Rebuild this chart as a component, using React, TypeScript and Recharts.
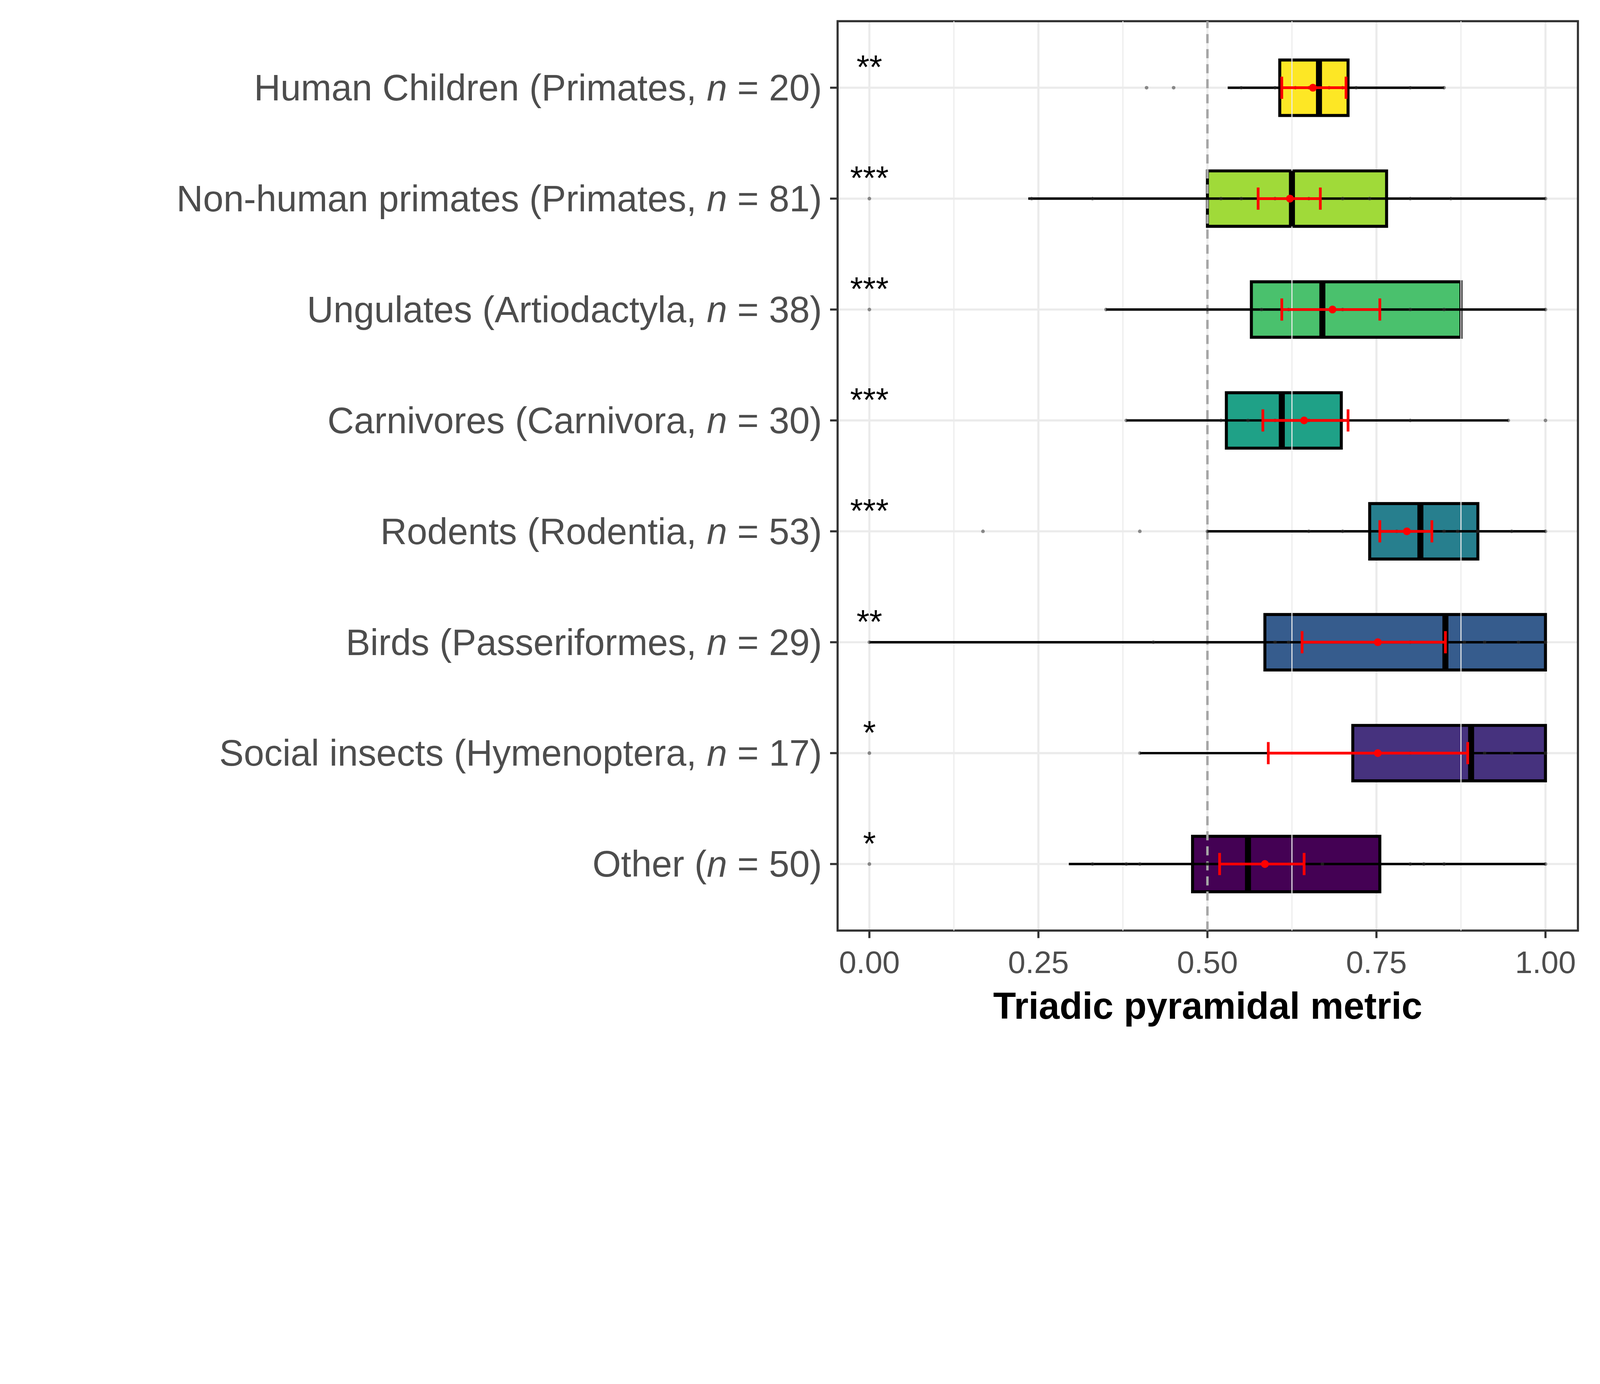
import React from 'react';
import {
  ScatterChart,
  Scatter,
  XAxis,
  YAxis,
  CartesianGrid,
  ReferenceLine,
  ReferenceArea,
} from 'recharts';

const names = ['Human Children', 'Non-human primates', 'Ungulates', 'Carnivores', 'Rodents', 'Birds', 'Social insects', 'Other'];
const orders = ['Primates', 'Primates', 'Artiodactyla', 'Carnivora', 'Rodentia', 'Passeriformes', 'Hymenoptera', ''];
const counts = [20, 81, 38, 30, 53, 29, 17, 50];
const colors = ['#FDE725', '#A0DA39', '#4AC16D', '#1FA187', '#277F8E', '#365C8D', '#46327E', '#440154'];
const q1 = [0.607, 0.5, 0.565, 0.528, 0.74, 0.585, 0.715, 0.478];
const medians = [0.665, 0.625, 0.67, 0.61, 0.815, 0.852, 0.89, 0.56];
const q3 = [0.708, 0.765, 0.875, 0.698, 0.9, 1.0, 1.0, 0.755];
const whiskLo = [0.53, 0.235, 0.35, 0.38, 0.5, 0.0, 0.4, 0.295];
const whiskHi = [0.85, 1.0, 1.0, 0.945, 1.0, 1.0, 1.0, 1.0];
const means = [0.656, 0.622, 0.685, 0.643, 0.795, 0.752, 0.752, 0.585];
const ciLo = [0.61, 0.575, 0.61, 0.582, 0.755, 0.64, 0.59, 0.518];
const ciHi = [0.705, 0.667, 0.755, 0.708, 0.832, 0.852, 0.885, 0.643];
const stars = ['**', '***', '***', '***', '***', '**', '*', '*'];
const points = [
  [0.41, 0.45, 0.55, 0.6, 0.63, 0.65, 0.68, 0.7, 0.72, 0.8, 0.85],
  [0.0, 0.24, 0.33, 0.52, 0.55, 0.6, 0.65, 0.7, 0.74, 0.8, 0.86, 1.0],
  [0.0, 0.35, 0.5, 0.58, 0.62, 0.7, 0.8, 0.85, 1.0],
  [0.38, 0.52, 0.56, 0.6, 0.65, 0.7, 0.8, 0.945, 1.0],
  [0.168, 0.4, 0.5, 0.65, 0.7, 0.78, 0.82, 0.85, 0.87, 0.9, 0.95, 1.0],
  [0.0, 0.42, 0.6, 0.62, 0.8, 0.88, 0.91, 0.96, 1.0],
  [0.0, 0.4, 0.8, 0.91, 0.95, 1.0],
  [0.0, 0.33, 0.38, 0.4, 0.5, 0.55, 0.62, 0.67, 0.8, 0.82, 0.85, 1.0],
];
const xTicks = [0, 0.25, 0.5, 0.75, 1];
const minorTicks = [0.125, 0.375, 0.625, 0.875];

const W = 5298;
const H = 3527;
const none = () => null;

function YTick(props: any) {
  const { x, y, payload } = props;
  const i = payload.value;
  const head = orders[i] ? `${names[i]} (${orders[i]}, ` : `${names[i]} (`;
  return (
    <text x={x - 25} y={y} textAnchor="end" dominantBaseline="central" fontSize={122} fill="#4D4D4D" fontFamily="Liberation Sans, Arial, sans-serif">
      {head}
      <tspan fontStyle="italic">n</tspan>
      {` = ${counts[i]})`}
    </text>
  );
}

function StarShape(props: any) {
  const { cx, cy, payload } = props;
  return (
    <text x={cx} y={cy + 25} textAnchor="middle" fontSize={110} fill="#000" fontFamily="Liberation Sans, Arial, sans-serif">
      {payload.s}
    </text>
  );
}

export default function App() {
  const vw = typeof window !== 'undefined' ? window.innerWidth - 16 : W;
  const vh = typeof window !== 'undefined' ? window.innerHeight - 16 : H;
  const s = Math.min(1, vw / W, vh / H);

  const series: React.ReactNode[] = [];
  names.forEach((_, i) => {
    const seg = (key: string, pts: { x: number; y: number }[], stroke: string, w: number) =>
      series.push(
        <Scatter key={key} data={pts} line={{ stroke, strokeWidth: w }} shape={none} isAnimationActive={false} />
      );
    seg(`w${i}`, [{ x: whiskLo[i], y: i }, { x: whiskHi[i], y: i }], '#000', 8);
    series.push(
      <ReferenceArea key={`b${i}`} x1={q1[i]} x2={q3[i]} y1={i - 0.25} y2={i + 0.25} fill={colors[i]} fillOpacity={1} stroke="#000" strokeWidth={10} />
    );
    series.push(
      <Scatter key={`p${i}`} data={points[i].map((x) => ({ x, y: i }))} shape={(p: any) => <circle cx={p.cx} cy={p.cy} r={6} fill="#333" fillOpacity={0.55} />} isAnimationActive={false} />
    );
    seg(`m${i}`, [{ x: medians[i], y: i - 0.25 }, { x: medians[i], y: i + 0.25 }], '#000', 20);
    seg(`c${i}`, [{ x: ciLo[i], y: i }, { x: ciHi[i], y: i }], '#FF0000', 9);
    seg(`cl${i}`, [{ x: ciLo[i], y: i - 0.1 }, { x: ciLo[i], y: i + 0.1 }], '#FF0000', 9);
    seg(`ch${i}`, [{ x: ciHi[i], y: i - 0.1 }, { x: ciHi[i], y: i + 0.1 }], '#FF0000', 9);
    series.push(
      <Scatter key={`mean${i}`} data={[{ x: means[i], y: i }]} shape={(p: any) => <circle cx={p.cx} cy={p.cy} r={13} fill="#FF0000" />} isAnimationActive={false} />
    );
  });

  return (
    <div style={{ width: W * s, height: H * s, overflow: 'hidden' }}>
      <div style={{ width: W, height: H, background: '#fff', transform: `scale(${s})`, transformOrigin: '0 0' }}>
        <ScatterChart width={W} height={H} margin={{ top: 60, right: 63, bottom: 0, left: 0 }}>
          <CartesianGrid stroke="#EBEBEB" strokeWidth={7} />
          {minorTicks.map((t) => (
            <ReferenceLine key={t} x={t} stroke="#EBEBEB" strokeWidth={3.5} />
          ))}
          <XAxis
            type="number"
            dataKey="x"
            domain={[-0.047, 1.048]}
            ticks={xTicks}
            allowDataOverflow
            tickFormatter={(v: number) => v.toFixed(2)}
            tick={{ fontSize: 104, fill: '#4D4D4D', fontFamily: 'Liberation Sans, Arial, sans-serif', dy: 40 }}
            tickLine={{ stroke: '#333', strokeWidth: 7 }}
            tickSize={25}
            axisLine={false}
            height={444}
            label={{ value: 'Triadic pyramidal metric', position: 'insideTop', dy: 200, fontSize: 124, fontWeight: 'bold', fill: '#000', fontFamily: 'Liberation Sans, Arial, sans-serif' }}
          />
          <YAxis
            type="number"
            dataKey="y"
            domain={[-0.6, 7.6]}
            reversed
            allowDataOverflow
            ticks={[0, 1, 2, 3, 4, 5, 6, 7]}
            tick={<YTick />}
            tickLine={{ stroke: '#333', strokeWidth: 7 }}
            tickSize={25}
            axisLine={false}
            width={2774}
          />
          <ReferenceLine x={0.5} stroke="#A6A6A6" strokeWidth={8} strokeDasharray="30 20" />
          {series}
          <Scatter data={stars.map((st, i) => ({ x: 0, y: i - 0.15, s: st }))} shape={StarShape} isAnimationActive={false} />
          <ReferenceArea x1={-0.047} x2={1.048} y1={-0.6} y2={7.6} fill="none" stroke="#333" strokeWidth={7} />
        </ScatterChart>
      </div>
    </div>
  );
}
